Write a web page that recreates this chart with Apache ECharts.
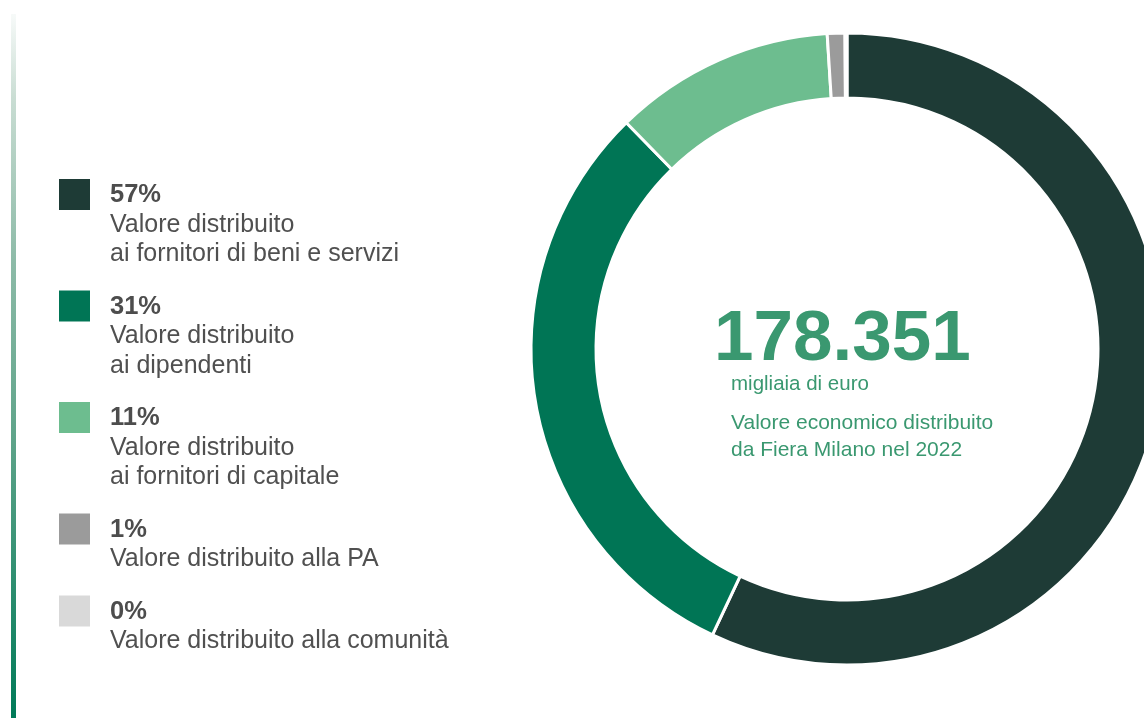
<!DOCTYPE html>
<html>
<head>
<meta charset="utf-8">
<script src="https://cdn.jsdelivr.net/npm/echarts@6/dist/echarts.min.js"></script>
<style>
html,body{margin:0;padding:0;background:#ffffff;}
#chart{width:1144px;height:718px;}
</style>
</head>
<body>
<div id="chart"></div>
<script>
// ---- data ----
var categories = [
  'Valore distribuito ai fornitori di beni e servizi',
  'Valore distribuito ai dipendenti',
  'Valore distribuito ai fornitori di capitale',
  'Valore distribuito alla PA',
  'Valore distribuito alla comunità'
];
var legendLines = [
  ['Valore distribuito', 'ai fornitori di beni e servizi'],
  ['Valore distribuito', 'ai dipendenti'],
  ['Valore distribuito', 'ai fornitori di capitale'],
  ['Valore distribuito alla PA'],
  ['Valore distribuito alla comunità']
];
var shares = [57.0, 30.7, 11.3, 0.9, 0.1];   // % of total
var colors = ['#1e3b36', '#007555', '#6dbd8f', '#9b9b9b', '#d9d9d9'];
var totalValue = '178.351';
var totalUnit = 'migliaia di euro';
var totalCaption = ['Valore economico distribuito', 'da Fiera Milano nel 2022'];

// ---- chart ----
var chart = echarts.init(document.getElementById('chart'), null, {renderer: 'canvas'});
var FONT = '"Liberation Sans", Arial, Helvetica, sans-serif';

var pieData = categories.map(function (c, i) {
  return {name: c, value: shares[i], itemStyle: {color: colors[i]}};
});

// place text so that its alphabetic baseline sits at `base`
function textAt(x, base, str, size, weight, fill) {
  return {
    type: 'text', x: x, y: base - 0.81 * size,
    style: {
      text: str,
      font: (weight || 'normal') + ' ' + size + 'px ' + FONT,
      fill: fill,
      verticalAlign: 'top'
    },
    silent: true
  };
}

var graphics = [];
// left gradient bar
graphics.push({
  type: 'rect', left: 11, top: 14,
  shape: {width: 5, height: 704},
  style: {
    fill: new echarts.graphic.LinearGradient(0, 0, 0, 1, [
      {offset: 0, color: '#f7faf9'},
      {offset: 0.12, color: '#c9ddd3'},
      {offset: 0.35, color: '#8dbba8'},
      {offset: 0.6, color: '#5fa48a'},
      {offset: 1, color: '#007a58'}
    ])
  },
  silent: true
});

// legend built from data
var y = 179;
var LINE = 29.5, GAP = 23;
categories.forEach(function (c, i) {
  graphics.push({
    type: 'rect', left: 59, top: y,
    shape: {width: 31, height: 31},
    style: {fill: colors[i]},
    silent: true
  });
  graphics.push(textAt(110, y + 24, Math.round(shares[i]) + '%', 25.5, 'bold', '#4d4d4d'));
  legendLines[i].forEach(function (ln, k) {
    graphics.push(textAt(110, y + 24 + LINE * (k + 1), ln, 25, 'normal', '#505050'));
  });
  y += LINE * (legendLines[i].length + 1) + GAP;
});

// center texts
graphics.push(textAt(714, 362, totalValue, 71, 'bold', '#3a9870'));
graphics.push(textAt(731, 390, totalUnit, 20.5, 'normal', '#3a9870'));
totalCaption.forEach(function (ln, k) {
  graphics.push(textAt(731, 430 + 27 * k, ln, 21, 'normal', '#3a9870'));
});

chart.setOption({
  backgroundColor: '#ffffff',
  animation: false,
  series: [{
    type: 'pie',
    center: [847, 349],
    radius: [251, 316],
    startAngle: 90,
    clockwise: true,
    avoidLabelOverlap: false,
    label: {show: false},
    labelLine: {show: false},
    emphasis: {disabled: true},
    itemStyle: {borderColor: '#ffffff', borderWidth: 3},
    data: pieData
  }],
  graphic: graphics
});
</script>
</body>
</html>
